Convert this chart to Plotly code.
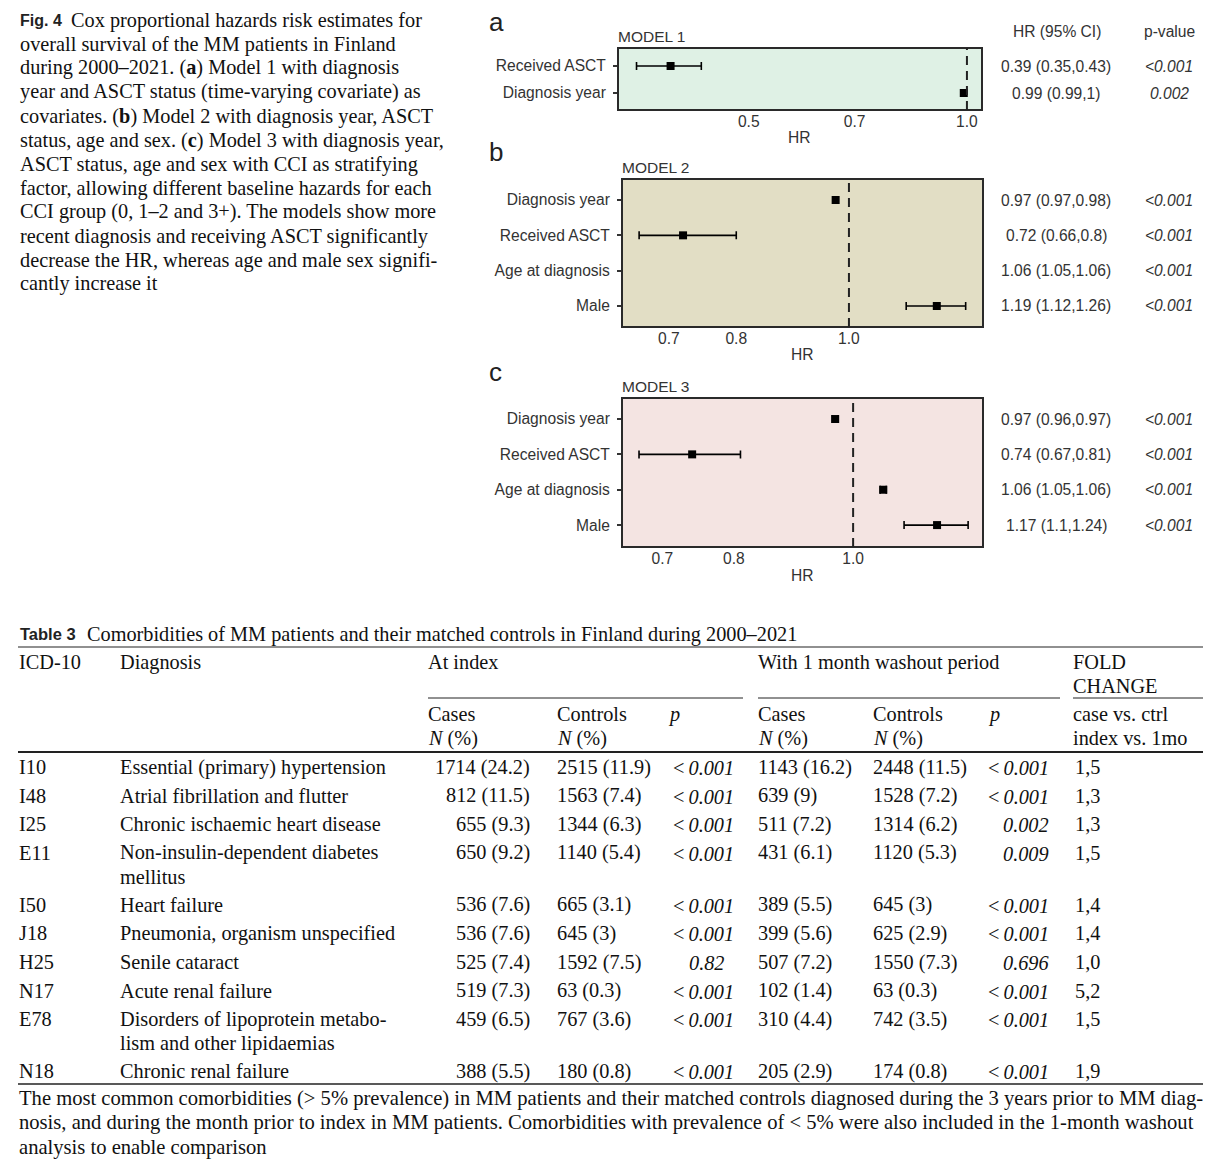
import plotly.graph_objects as go
import math

W, H = 1220, 1176
SERIF = "Liberation Serif, Times New Roman, serif"
SANS = "Liberation Sans, Arial, sans-serif"
FS = 15.6      # forest plot text size
TS = 20.3      # table / caption text size

# ---------------- Forest plot data ----------------
m1_vars = ["Received ASCT", "Diagnosis year"]
m1_hr = [0.39, 0.99]
m1_lo = [0.35, 0.987]
m1_hi = [0.43, 0.995]
m1_ci_text = ["0.39 (0.35,0.43)", "0.99 (0.99,1)"]
m1_p = ["<0.001", "0.002"]

m2_vars = ["Diagnosis year", "Received ASCT", "Age at diagnosis", "Male"]
m2_hr = [0.974, 0.72, None, 1.19]      # age marker is not visible in the original
m2_lo = [0.970, 0.66, None, 1.12]
m2_hi = [0.978, 0.80, None, 1.26]
m2_ci_text = ["0.97 (0.97,0.98)", "0.72 (0.66,0.8)", "1.06 (1.05,1.06)", "1.19 (1.12,1.26)"]
m2_p = ["<0.001", "<0.001", "<0.001", "<0.001"]

m3_vars = ["Diagnosis year", "Received ASCT", "Age at diagnosis", "Male"]
m3_hr = [0.967, 0.74, 1.058, 1.17]
m3_lo = [0.962, 0.67, 1.052, 1.10]
m3_hi = [0.972, 0.81, 1.064, 1.24]
m3_ci_text = ["0.97 (0.96,0.97)", "0.74 (0.67,0.81)", "1.06 (1.05,1.06)", "1.17 (1.1,1.24)"]
m3_p = ["<0.001", "<0.001", "<0.001", "<0.001"]

x_ticks_a = [0.5, 0.7, 1.0]
x_ticks_bc = [0.7, 0.8, 1.0]

# ---------------- Caption text ----------------
fig_label = "Fig. 4"
caption_lines = [
    "Cox proportional hazards risk estimates for",
    "overall survival of the MM patients in Finland",
    "during 2000–2021. (<b>a</b>) Model 1 with diagnosis",
    "year and ASCT status (time-varying covariate) as",
    "covariates. (<b>b</b>) Model 2 with diagnosis year, ASCT",
    "status, age and sex. (<b>c</b>) Model 3 with diagnosis year,",
    "ASCT status, age and sex with CCI as stratifying",
    "factor, allowing different baseline hazards for each",
    "CCI group (0, 1–2 and 3+). The models show more",
    "recent diagnosis and receiving ASCT significantly",
    "decrease the HR, whereas age and male sex signifi-",
    "cantly increase it",
]

# ---------------- Table data ----------------
table_label = "Table 3"
table_title = "Comorbidities of MM patients and their matched controls in Finland during 2000–2021"
icd = ["I10", "I48", "I25", "E11", "I50", "J18", "H25", "N17", "E78", "N18"]
diagnosis = [
    ["Essential (primary) hypertension"],
    ["Atrial fibrillation and flutter"],
    ["Chronic ischaemic heart disease"],
    ["Non-insulin-dependent diabetes", "mellitus"],
    ["Heart failure"],
    ["Pneumonia, organism unspecified"],
    ["Senile cataract"],
    ["Acute renal failure"],
    ["Disorders of lipoprotein metabo-", "lism and other lipidaemias"],
    ["Chronic renal failure"],
]
idx_cases = ["1714 (24.2)", "812 (11.5)", "655 (9.3)", "650 (9.2)", "536 (7.6)",
             "536 (7.6)", "525 (7.4)", "519 (7.3)", "459 (6.5)", "388 (5.5)"]
idx_controls = ["2515 (11.9)", "1563 (7.4)", "1344 (6.3)", "1140 (5.4)", "665 (3.1)",
                "645 (3)", "1592 (7.5)", "63 (0.3)", "767 (3.6)", "180 (0.8)"]
idx_p = ["<0.001", "<0.001", "<0.001", "<0.001", "<0.001",
         "<0.001", "0.82", "<0.001", "<0.001", "<0.001"]
wo_cases = ["1143 (16.2)", "639 (9)", "511 (7.2)", "431 (6.1)", "389 (5.5)",
            "399 (5.6)", "507 (7.2)", "102 (1.4)", "310 (4.4)", "205 (2.9)"]
wo_controls = ["2448 (11.5)", "1528 (7.2)", "1314 (6.2)", "1120 (5.3)", "645 (3)",
               "625 (2.9)", "1550 (7.3)", "63 (0.3)", "742 (3.5)", "174 (0.8)"]
wo_p = ["<0.001", "<0.001", "0.002", "0.009", "<0.001",
        "<0.001", "0.696", "<0.001", "<0.001", "<0.001"]
fold_change = ["1,5", "1,3", "1,3", "1,5", "1,4", "1,4", "1,0", "5,2", "1,5", "1,9"]
footnote_lines = [
    "The most common comorbidities (&gt; 5% prevalence) in MM patients and their matched controls diagnosed during the 3 years prior to MM diag-",
    "nosis, and during the month prior to index in MM patients. Comorbidities with prevalence of &lt; 5% were also included in the 1-month washout",
    "analysis to enable comparison",
]

# ---------------- helpers ----------------
def PX(x):
    return x / W

def PY(y):
    return 1 - y / H

annotations = []
shapes = []

def txt(x, y, s, size=TS, family=SERIF, anchor="left", color="#111", yanchor="middle", yref="paper"):
    annotations.append(dict(
        x=PX(x), y=(PY(y) if yref == "paper" else y), xref="paper", yref=yref,
        text=s, showarrow=False, xanchor=anchor, yanchor=yanchor,
        font=dict(family=family, size=size, color=color), borderpad=0))

def hline(x0, x1, y, width=1.0, color="#222"):
    shapes.append(dict(type="line", xref="paper", yref="paper",
                       x0=PX(x0), x1=PX(x1), y0=PY(y), y1=PY(y),
                       line=dict(color=color, width=width)))

fig = go.Figure()

# ---------------- Forest panels ----------------
panels = [
    dict(key="", vars=m1_vars, hr=m1_hr, lo=m1_lo, hi=m1_hi, ci=m1_ci_text, p=m1_p,
         box=(618, 982, 48, 110), xr=(0.330, 1.049), yr=(1.63, -0.667),
         ticks=x_ticks_a, bg="#dff1e5", letter="a", ly=22, model="MODEL 1", my=37, hry=138),
    dict(key="2", vars=m2_vars, hr=m2_hr, lo=m2_lo, hi=m2_hi, ci=m2_ci_text, p=m2_p,
         box=(622, 983, 179, 327), xr=(0.638, 1.304), yr=(3.595, -0.595),
         ticks=x_ticks_bc, bg="#e2dec5", letter="b", ly=152, model="MODEL 2", my=167, hry=355),
    dict(key="3", vars=m3_vars, hr=m3_hr, lo=m3_lo, hi=m3_hi, ci=m3_ci_text, p=m3_p,
         box=(622, 983, 398, 547), xr=(0.649, 1.275), yr=(3.62, -0.595),
         ticks=x_ticks_bc, bg="#f4e4e2", letter="c", ly=372, model="MODEL 3", my=386, hry=575),
]

layout_axes = {}
for pn in panels:
    k = pn["key"]
    xa, ya = "x" + k, "y" + k
    x0, x1, y0, y1 = pn["box"]
    ypos = list(range(len(pn["vars"])))
    plus = [(h - m) if (h is not None and m is not None) else None for h, m in zip(pn["hi"], pn["hr"])]
    minus = [(m - l) if (l is not None and m is not None) else None for l, m in zip(pn["lo"], pn["hr"])]
    fig.add_trace(go.Scatter(
        x=pn["hr"], y=ypos, xaxis=xa, yaxis=ya, mode="markers",
        marker=dict(symbol="square", size=8, color="black"),
        error_x=dict(type="data", symmetric=False, array=plus, arrayminus=minus,
                     color="black", thickness=1.6, width=4),
        showlegend=False, hoverinfo="skip"))
    layout_axes["xaxis" + k] = dict(
        domain=[PX(x0), PX(x1)], anchor=ya, type="log",
        range=[math.log10(pn["xr"][0]), math.log10(pn["xr"][1])],
        tickvals=pn["ticks"], ticktext=[f"{t:.1f}" for t in pn["ticks"]],
        showgrid=False, zeroline=False, showline=False, ticks="",
        tickfont=dict(family=SANS, size=FS, color="#333"))
    layout_axes["yaxis" + k] = dict(
        domain=[PY(y1), PY(y0)], anchor=xa, range=list(pn["yr"]),
        tickvals=ypos, ticktext=pn["vars"], showgrid=False, zeroline=False,
        showline=False, ticks="outside", ticklen=4, tickwidth=1.5, tickcolor="#333",
        ticklabelstandoff=4, tickfont=dict(family=SANS, size=FS, color="#333"))
    # background + frame
    shapes.append(dict(type="rect", xref=xa + " domain", yref=ya + " domain",
                       x0=0, x1=1, y0=0, y1=1, fillcolor=pn["bg"],
                       line=dict(color="#2a2a2a", width=2), layer="below"))
    # reference line at HR = 1
    shapes.append(dict(type="line", xref=xa, yref=ya + " domain", x0=1, x1=1, y0=0, y1=1,
                       line=dict(color="#222", width=2, dash="9px,6px")))
    # labels
    txt(488, pn["ly"], pn["letter"], size=26, family=SANS, color="#222")
    txt(x0 - 1, pn["my"], pn["model"], size=15.5, family=SANS, color="#333")
    txt((x0 + x1) / 2, pn["hry"], "HR", size=FS, family=SANS, anchor="center", color="#333")
    for i, (c, p) in enumerate(zip(pn["ci"], pn["p"])):
        txt(1056, i, c, size=FS, family=SANS, anchor="center", color="#333", yref=ya)
        txt(1169, i, "<i>" + p + "</i>", size=FS, family=SANS, anchor="center", color="#333", yref=ya)

txt(1057, 31, "HR (95% CI)", size=FS, family=SANS, anchor="center", color="#333")
txt(1169, 31, "p-value", size=FS, family=SANS, anchor="center", color="#333")

# ---------------- Caption ----------------
txt(19, 20, "<b>" + fig_label + "</b>", size=16, family=SANS, color="#222")
for i, line in enumerate(caption_lines):
    txt(70 if i == 0 else 19, 20 + 24 * i, line)

# ---------------- Table ----------------
txt(19, 634, "<b>" + table_label + "</b>", size=16.5, family=SANS, color="#222")
txt(86, 634, table_title)
hline(18, 1203, 647, 1.2)
txt(18, 662, "ICD-10")
txt(119, 662, "Diagnosis")
txt(427, 662, "At index")
txt(757, 662, "With 1 month washout period")
txt(1072, 662, "FOLD")
txt(1072, 686, "CHANGE")
hline(428, 743, 698, 1.0)
hline(758, 1060, 698, 1.0)
hline(1073, 1203, 698, 1.0)
for xx, a, b in [(427, "Cases", "<i>N</i> (%)"), (556, "Controls", "<i>N</i> (%)"),
                 (757, "Cases", "<i>N</i> (%)"), (872, "Controls", "<i>N</i> (%)"),
                 (1072, "case vs. ctrl", "index vs. 1mo")]:
    txt(xx, 714, a)
    txt(xx, 738, b)
txt(667, 714, "<i>p</i>")
txt(987, 714, "<i>p</i>")
hline(18, 1203, 752, 2.0)

def pfmt(v):
    if v.startswith("<"):
        return "&lt;\u2009<i>" + v[1:] + "</i>"
    return "<i>" + v + "</i>"

y = 767
for i in range(len(icd)):
    txt(18, y, icd[i])
    for j, dl in enumerate(diagnosis[i]):
        txt(119, y + 24 * j, dl)
    txt(531, y, idx_cases[i], anchor="right")
    txt(556, y, idx_controls[i])
    if idx_p[i].startswith("<"):
        txt(735, y + 1, pfmt(idx_p[i]), anchor="right")
    else:
        txt(688, y + 1, pfmt(idx_p[i]))
    txt(757, y, wo_cases[i])
    txt(872, y, wo_controls[i])
    txt(1050, y + 1, pfmt(wo_p[i]), anchor="right")
    txt(1074, y, fold_change[i])
    y += 28.6 + 23.4 * (len(diagnosis[i]) - 1)

hline(18, 1203, 1084, 1.5)
for i, line in enumerate(footnote_lines):
    txt(18, 1098 + 24.5 * i, line, size=20.6)

fig.update_layout(
    width=W, height=H, margin=dict(l=0, r=0, t=0, b=0),
    paper_bgcolor="white", plot_bgcolor="rgba(0,0,0,0)",
    showlegend=False, annotations=annotations, shapes=shapes,
    **layout_axes)

fig.write_html("out.html", config={"displayModeBar": False},
               post_script="document.body.style.margin='0';document.body.style.overflow='hidden';")
